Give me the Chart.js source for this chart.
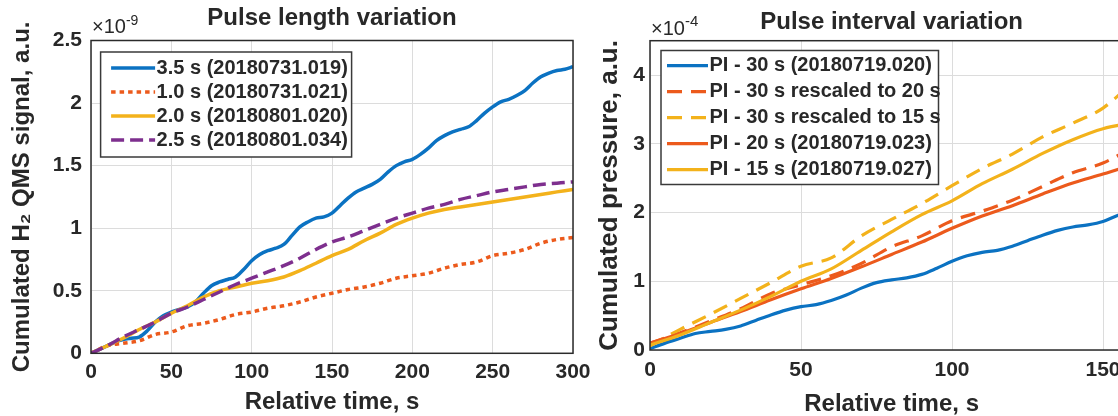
<!DOCTYPE html>
<html>
<head>
<meta charset="utf-8">
<script src="https://cdn.jsdelivr.net/npm/chart.js@4/dist/chart.umd.min.js"></script>
<style>
  html, body { margin: 0; padding: 0; background: #fff; overflow: hidden; width: 1118px; height: 416px; }
  #lengthChart { position: absolute; left: 0; top: 0; }
  #intervalChart { position: absolute; left: 590px; top: 0; }
</style>
</head>
<body>
<canvas id="lengthChart" width="600" height="416"></canvas>
<canvas id="intervalChart" width="580" height="416"></canvas>
<script>
// Pulse length variation, cumulated H2 QMS signal (x1e-9)
const timeFine = [0, 5, 10, 15, 20, 25, 30, 35, 40, 45, 50, 55, 60, 65, 70, 75, 80, 85, 90, 95,
  100, 105, 110, 115, 120, 125, 130, 135, 140, 145, 150, 155, 160, 165, 170, 175, 180, 185, 190, 195,
  200, 205, 210, 215, 220, 225, 230, 235, 240, 245, 250, 255, 260, 265, 270, 275, 280, 285, 290, 295, 300];
const pulse35 = [0, 0.03, 0.06, 0.09, 0.11, 0.12, 0.13, 0.18, 0.25, 0.30, 0.33, 0.35, 0.37, 0.41, 0.48, 0.54, 0.57, 0.59, 0.61, 0.67,
  0.74, 0.79, 0.82, 0.84, 0.87, 0.94, 1.01, 1.05, 1.08, 1.09, 1.12, 1.18, 1.24, 1.29, 1.32, 1.35, 1.39, 1.45, 1.50, 1.53,
  1.55, 1.59, 1.64, 1.70, 1.74, 1.77, 1.79, 1.81, 1.86, 1.92, 1.97, 2.01, 2.03, 2.06, 2.10, 2.16, 2.21, 2.24, 2.26, 2.27, 2.29];
const timeCoarse = [0, 10, 20, 30, 40, 50, 60, 70, 80, 90, 100, 110, 120, 130, 140, 150,
  160, 170, 180, 190, 200, 210, 220, 230, 240, 250, 260, 270, 280, 290, 300];
const pulse10 = [0, 0.06, 0.08, 0.10, 0.15, 0.17, 0.22, 0.24, 0.27, 0.31, 0.33, 0.36, 0.38, 0.41, 0.45, 0.48,
  0.51, 0.53, 0.56, 0.60, 0.62, 0.64, 0.68, 0.71, 0.73, 0.78, 0.80, 0.83, 0.88, 0.91, 0.925];
const pulse20 = [0, 0.06, 0.12, 0.19, 0.25, 0.32, 0.38, 0.45, 0.50, 0.53, 0.56, 0.58, 0.61, 0.66, 0.72, 0.78,
  0.83, 0.90, 0.96, 1.03, 1.08, 1.12, 1.15, 1.17, 1.19, 1.21, 1.23, 1.25, 1.27, 1.29, 1.31];
const pulse25 = [0, 0.06, 0.13, 0.19, 0.25, 0.32, 0.37, 0.43, 0.49, 0.55, 0.60, 0.65, 0.70, 0.76, 0.83, 0.89,
  0.93, 0.98, 1.03, 1.08, 1.12, 1.16, 1.19, 1.23, 1.26, 1.29, 1.31, 1.33, 1.35, 1.36, 1.37];

// Pulse interval variation, cumulated pressure (x1e-4)
const piTimeFine = [0, 5, 10, 15, 20, 25, 30, 35, 40, 45, 50, 55, 60, 65, 70, 75, 80, 85, 90, 95,
  100, 105, 110, 115, 120, 125, 130, 135, 140, 145, 150, 155, 160];
const pi30 = [0.02, 0.10, 0.17, 0.24, 0.27, 0.30, 0.35, 0.43, 0.51, 0.58, 0.63, 0.66, 0.72, 0.80, 0.90, 0.98, 1.02, 1.05, 1.10, 1.19,
  1.29, 1.37, 1.42, 1.45, 1.51, 1.59, 1.67, 1.74, 1.79, 1.82, 1.87, 1.96, 2.02];
const piTime = [0, 10, 20, 30, 40, 50, 60, 70, 80, 90, 100, 110, 120, 130, 140, 150, 160];
const pi30to20 = [0.10, 0.25, 0.42, 0.60, 0.82, 0.95, 1.08, 1.26, 1.50, 1.66, 1.88, 2.02, 2.18, 2.38, 2.58, 2.72, 2.95];
const pi30to15 = [0.06, 0.30, 0.52, 0.75, 0.98, 1.22, 1.34, 1.66, 1.90, 2.13, 2.39, 2.64, 2.85, 3.10, 3.30, 3.52, 3.90];
const pi20 = [0.10, 0.24, 0.40, 0.56, 0.73, 0.89, 1.04, 1.21, 1.39, 1.57, 1.77, 1.95, 2.10, 2.27, 2.43, 2.56, 2.70];
const pi15 = [0.07, 0.22, 0.40, 0.58, 0.78, 1.00, 1.18, 1.45, 1.72, 1.97, 2.17, 2.42, 2.63, 2.86, 3.06, 3.22, 3.31];

const lengthXTicks = [0, 50, 100, 150, 200, 250, 300];
const lengthYTicks = [0, 0.5, 1, 1.5, 2, 2.5];
const intervalXTicks = [0, 50, 100, 150];
const intervalYTicks = [0, 1, 2, 3, 4];

const FONT = '"Liberation Sans", Arial, sans-serif';
const TEXT = '#282828';
const GRID = '#dcdcdc';
const BLUE = '#0b72c2';
const RED = '#ec5a1c';
const YELLOW = '#f3b21b';
const PURPLE = '#7e2f8e';

const pts = (xs, ys) => xs.map((x, i) => ({ x: x, y: ys[i] }));

// box around the plot area
const frame = {
  id: 'frame',
  afterDatasetsDraw(chart) {
    const { ctx, chartArea: a } = chart;
    ctx.save();
    ctx.strokeStyle = '#2b2b2b';
    ctx.lineWidth = 1.5;
    ctx.strokeRect(a.left, a.top, a.right - a.left, a.bottom - a.top);
    ctx.restore();
  }
};

// legend drawn inside the axes, in a framed white box
const boxLegend = {
  id: 'boxLegend',
  afterDatasetsDraw(chart, args, o) {
    const { ctx, chartArea: a } = chart;
    const x = a.left + o.dx;
    const y = a.top + o.dy;
    ctx.save();
    ctx.fillStyle = '#fff';
    ctx.fillRect(x, y, o.width, o.height);
    ctx.strokeStyle = '#3a3a3a';
    ctx.lineWidth = 1.5;
    ctx.strokeRect(x, y, o.width, o.height);
    ctx.font = 'bold ' + o.size + 'px ' + FONT;
    ctx.textBaseline = 'middle';
    chart.data.datasets.forEach((ds, i) => {
      const cy = y + o.first + i * o.step;
      ctx.beginPath();
      ctx.setLineDash(ds.borderDash || []);
      ctx.lineWidth = ds.borderWidth;
      ctx.strokeStyle = ds.borderColor;
      ctx.moveTo(x + o.lineStart, cy);
      ctx.lineTo(x + o.lineEnd, cy);
      ctx.stroke();
      ctx.setLineDash([]);
      ctx.fillStyle = TEXT;
      ctx.fillText(ds.label, x + o.textStart, cy);
    });
    ctx.restore();
  }
};

// axis multiplier above the y axis, e.g. x10^-9
const exponent = {
  id: 'exponent',
  afterDraw(chart, args, o) {
    const { ctx, chartArea: a } = chart;
    ctx.save();
    ctx.fillStyle = TEXT;
    ctx.textBaseline = 'alphabetic';
    ctx.font = o.size + 'px ' + FONT;
    ctx.fillText('×10', a.left + 1, o.baseline);
    const w = ctx.measureText('×10').width;
    ctx.font = o.supSize + 'px ' + FONT;
    ctx.fillText(o.power, a.left + 1 + w, o.baseline - o.raise);
    ctx.restore();
  }
};

function line(label, xs, ys, color, width, dash, order) {
  return {
    label: label,
    data: pts(xs, ys),
    borderColor: color,
    borderWidth: width,
    borderDash: dash,
    pointRadius: 0,
    fill: false,
    cubicInterpolationMode: 'monotone',
    order: order
  };
}

function axes(o) {
  const tickFont = { size: 21, weight: 'bold', family: FONT };
  const titleFont = { size: 24, weight: 'bold', family: FONT, lineHeight: 1 };
  return {
    x: {
      type: 'linear', min: 0, max: o.xMax,
      afterBuildTicks: s => { s.ticks = o.xTicks.map(v => ({ value: v })); },
      afterFit: s => { s.height = o.xHeight; },
      grid: { color: GRID, lineWidth: 1, drawTicks: false },
      border: { display: false },
      ticks: { padding: o.xPad, color: TEXT, font: tickFont, maxRotation: 0, autoSkip: false, callback: v => String(v) },
      title: { display: true, text: 'Relative time, s', color: TEXT, font: titleFont, padding: { top: 0, bottom: o.xTitlePad } }
    },
    y: {
      type: 'linear', min: 0, max: o.yMax,
      afterBuildTicks: s => { s.ticks = o.yTicks.map(v => ({ value: v })); },
      afterFit: s => { s.width = o.yWidth; },
      grid: { color: GRID, lineWidth: 1, drawTicks: false },
      border: { display: false },
      ticks: { padding: o.yPad, color: TEXT, font: tickFont, autoSkip: false, callback: v => String(v) },
      title: {
        display: true, text: o.yTitle, color: TEXT,
        font: { size: o.yTitleSize, weight: 'bold', family: FONT, lineHeight: 1 },
        padding: { top: o.yTitlePad, bottom: 0 }
      }
    }
  };
}

new Chart(document.getElementById('lengthChart'), {
  type: 'line',
  data: {
    datasets: [
      line('3.5 s (20180731.019)', timeFine, pulse35, BLUE, 3.5, [], 4),
      line('1.0 s (20180731.021)', timeCoarse, pulse10, RED, 3.5, [4.5, 4], 3),
      line('2.0 s (20180801.020)', timeCoarse, pulse20, YELLOW, 3.5, [], 2),
      line('2.5 s (20180801.034)', timeCoarse, pulse25, PURPLE, 3.5, [13, 6], 1)
    ]
  },
  options: {
    responsive: false,
    animation: false,
    layout: { padding: { left: 0, right: 27, top: 0, bottom: 0 } },
    scales: axes({
      xMax: 300, xTicks: lengthXTicks, xHeight: 62.7, xPad: 6, xTitlePad: 2,
      yMax: 2.5, yTicks: lengthYTicks, yWidth: 91, yPad: 9, yTitlePad: 10, yTitleSize: 24,
      yTitle: 'Cumulated H₂ QMS signal, a.u.'
    }),
    plugins: {
      legend: { display: false },
      tooltip: { enabled: false },
      title: {
        display: true, fullSize: false, text: 'Pulse length variation', color: TEXT,
        font: { size: 24, weight: 'bold', family: FONT, lineHeight: 1 },
        padding: { top: 6.5, bottom: 10 }
      },
      boxLegend: { dx: 9.6, dy: 11.5, width: 251, height: 105, first: 16, step: 24, lineStart: 10.5, lineEnd: 54.5, textStart: 56, size: 20 },
      exponent: { power: '-9', size: 20, supSize: 14, baseline: 33, raise: 8 }
    }
  },
  plugins: [frame, boxLegend, exponent]
});

new Chart(document.getElementById('intervalChart'), {
  type: 'line',
  data: {
    datasets: [
      line('PI - 30 s (20180719.020)', piTimeFine, pi30, BLUE, 3.2, [], 5),
      line('PI - 30 s rescaled to 20 s', piTime, pi30to20, RED, 3.2, [15, 9], 4),
      line('PI - 30 s rescaled to 15 s', piTime, pi30to15, YELLOW, 3.2, [15, 9], 3),
      line('PI - 20 s (20180719.023)', piTime, pi20, RED, 3.2, [], 2),
      line('PI - 15 s (20180719.027)', piTime, pi15, YELLOW, 3.2, [], 1)
    ]
  },
  options: {
    responsive: false,
    animation: false,
    layout: { padding: { left: 0, right: 580 - 543.2, top: 0, bottom: 0 } },
    scales: axes({
      xMax: 160, xTicks: intervalXTicks, xHeight: 66, xPad: 8, xTitlePad: 0,
      yMax: 4.5, yTicks: intervalYTicks, yWidth: 60, yPad: 5, yTitlePad: 7, yTitleSize: 26,
      yTitle: 'Cumulated pressure, a.u.'
    }),
    plugins: {
      legend: { display: false },
      tooltip: { enabled: false },
      title: {
        display: true, fullSize: false, text: 'Pulse interval variation', color: TEXT,
        font: { size: 24, weight: 'bold', family: FONT, lineHeight: 1 },
        padding: { top: 10, bottom: 6.7 }
      },
      boxLegend: { dx: 11, dy: 9.8, width: 277.5, height: 134, first: 15.2, step: 26, lineStart: 6, lineEnd: 47, textStart: 48.5, size: 20 },
      exponent: { power: '-4', size: 20, supSize: 15, baseline: 35, raise: 9 }
    }
  },
  plugins: [frame, boxLegend, exponent]
});
</script>
</body>
</html>
